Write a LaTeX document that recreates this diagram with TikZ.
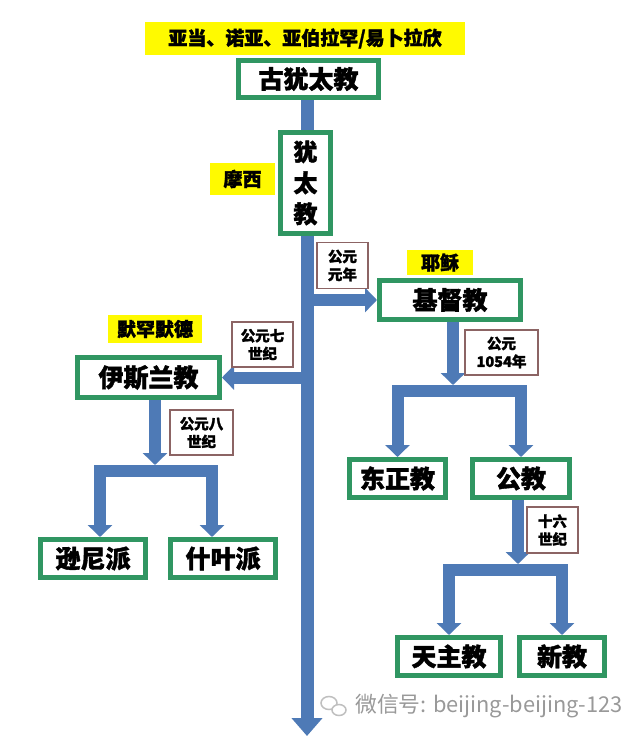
\documentclass[tikz,border=0pt]{standalone}
\usepackage{fontspec}
\setmainfont{Noto Sans CJK SC}[BoldFeatures={FakeBold=1.6}]
\usetikzlibrary{arrows.meta, backgrounds}
\definecolor{boxgreen}{RGB}{48,150,98}
\definecolor{flowblue}{RGB}{78,122,182}
\definecolor{datebrown}{RGB}{140,100,100}
\definecolor{hiyellow}{RGB}{255,250,0}
\tikzstyle{faith} = [draw=boxgreen, line width=5pt, fill=white, inner sep=0pt, align=center, font=\fontsize{25}{31}\selectfont\bfseries]
\tikzstyle{person} = [fill=hiyellow, inner sep=0pt, font=\fontsize{19}{22}\selectfont\bfseries]
\tikzstyle{date} = [draw=datebrown, line width=1.5pt, fill=white, inner sep=0pt, align=center, font=\fontsize{14.5}{18}\selectfont\bfseries]
\tikzstyle{flow} = [draw=flowblue, line width=12pt, line join=miter, -{Triangle[width=24pt,length=12pt]}]

\begin{document}
\begin{tikzpicture}[x=1pt, y=-1pt]
	\useasboundingbox (0,0) rectangle (640,742);
	\node [person, minimum width=320pt, minimum height=33pt] (adam) at (305,38.5) {亚当、诺亚、亚伯拉罕/易卜拉欣};
	\node [faith, minimum width=140pt, minimum height=37pt] (gu) at (308.5,79) {古犹太教};
	\node [faith, minimum width=50pt, minimum height=101pt, font=\fontsize{24}{31}\selectfont\bfseries] (youtai) at (305.5,183) {犹\\太\\教};
	\node [person, minimum width=65pt, minimum height=32pt] (moxi) at (242.5,179) {摩西};
	\coordinate (trunk) at (307,736);
	
	% christianity
	\node [date, minimum width=51pt, minimum height=46pt] (yuan) at (342.5,265.5) {公元\\元年};
	\node [person, minimum width=66pt, minimum height=25pt] (yesu) at (440,262.5) {耶稣};
	\node [faith, minimum width=141pt, minimum height=39pt] (jidu) at (450,300) {基督教};
	\node [date, minimum width=73pt, minimum height=45pt] (y1054) at (501.5,352.5) {公元\\1054年};
	\coordinate (f1) at (453,391);
	\node [faith, minimum width=96pt, minimum height=38pt] (dongzheng) at (397.5,478.5) {东正教};
	\node [faith, minimum width=97pt, minimum height=38pt] (gongjiao) at (521,478.5) {公教};
	\node [date, minimum width=51pt, minimum height=46pt] (shiliu) at (552.5,530) {十六\\世纪};
	\coordinate (f3) at (518,570);
	\node [faith, minimum width=103pt, minimum height=38pt] (tianzhu) at (449,656.5) {天主教};
	\node [faith, minimum width=85pt, minimum height=38pt] (xinjiao) at (562,656.5) {新教};
	
	% islam
	\node [person, minimum width=94pt, minimum height=28pt] (muhanmode) at (155,329) {默罕默德};
	\node [faith, minimum width=142pt, minimum height=40pt] (yisilan) at (148.5,377.5) {伊斯兰教};
	\node [date, minimum width=61pt, minimum height=45pt] (qi) at (262.5,344.5) {公元七\\世纪};
	\node [date, minimum width=63pt, minimum height=45pt] (ba) at (201.5,432.5) {公元八\\世纪};
	\coordinate (f2) at (155,471);
	\node [faith, minimum width=105pt, minimum height=38pt] (xunni) at (93,558.5) {逊尼派};
	\node [faith, minimum width=105pt, minimum height=38pt] (shiye) at (223,558.5) {什叶派};
	
	% watermark
	\node [anchor=west, inner sep=0pt, text=black!40, font=\fontsize{21.8}{24}\selectfont] (wx) at (355,706) {微信号: beijing-beijing-123};
	\draw [black!25, line width=1.5pt] ([xshift=-26pt, yshift=3pt]wx.west) ellipse [x radius=8pt, y radius=6.5pt];
	\draw [black!25, line width=1.5pt, fill=white] ([xshift=-16pt, yshift=-4pt]wx.west) ellipse [x radius=7pt, y radius=5.5pt];
	
	\begin{scope}[on background layer]
	\fill [white] (0,0) rectangle (640,742);
	\draw [flow, line width=13pt, -{Triangle[width=30pt,length=18pt]}] (gu.south -| trunk) -- (trunk);
	\draw [flow] (trunk |- jidu.west) -- (jidu.west);
	\draw [flow] (trunk |- yisilan.east) -- (yisilan.east);
	\draw [flow, shorten >=6pt] (f1 |- jidu.south) -- (f1);
	\draw [flow] (f1) -| (dongzheng.north);
	\draw [flow] (f1) -| (gongjiao.north);
	\draw [flow, shorten >=6pt] (f3 |- gongjiao.south) -- (f3);
	\draw [flow] (f3) -| (tianzhu.north);
	\draw [flow] (f3) -| (xinjiao.north);
	\draw [flow, shorten >=6pt] (f2 |- yisilan.south) -- (f2);
	\draw [flow] (f2) -| ([xshift=7pt]xunni.north);
	\draw [flow] (f2) -| ([xshift=-11pt]shiye.north);
	\end{scope}
\end{tikzpicture}
\end{document}
